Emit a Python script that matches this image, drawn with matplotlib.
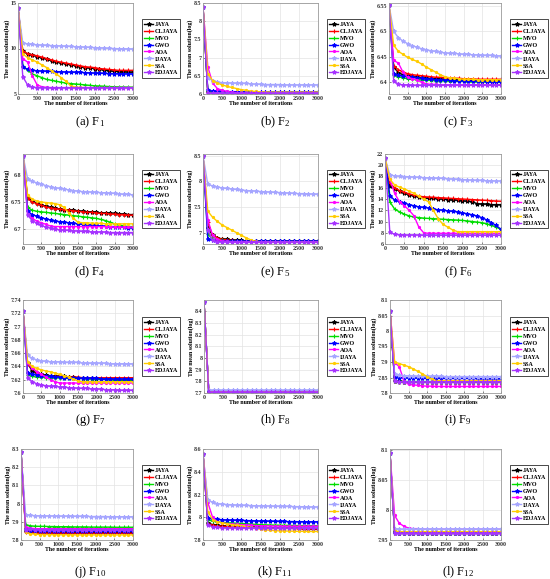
import matplotlib
matplotlib.use("Agg")
import matplotlib.pyplot as plt
from matplotlib.ticker import FuncFormatter

# -----------------------
# Data (mean solution, log scale)
# -----------------------
ITERS = [0, 125, 250, 375, 500,   625, 750, 875, 1000, 1125,   1250, 1375, 1500, 1625, 1750,
         1875, 2000, 2125, 2250, 2375,   2500, 2625, 2750, 2875, 3000]

ALGOS = ["JAYA", "CLJAYA", "MVO", "GWO", "AOA", "IJAYA", "SSA", "EDJAYA"]

# rows follow ALGOS order
F1 = [
    [14.5, 9.7, 9.4, 9.25, 9.1,   8.95, 8.8, 8.65, 8.5, 8.4,   8.3, 8.2, 8.1, 8.0, 7.9,   7.85, 7.8, 7.7, 7.6, 7.55,   7.5, 7.45, 7.45, 7.4, 7.4],
    [14.5, 9.7, 9.45, 9.3, 9.2,   9.05, 8.9, 8.75, 8.6, 8.5,   8.4, 8.3, 8.2, 8.1, 8.0,   7.95, 7.9, 7.8, 7.75, 7.7,   7.65, 7.6, 7.6, 7.6, 7.6],
    [14.5, 8.1, 7.6, 7.2, 7.0,   6.8, 6.6, 6.5, 6.4, 6.3,   6.2, 6.15, 6.1, 6.05, 6.0,   5.95, 5.9, 5.88, 5.85, 5.82,   5.8, 5.78, 5.77, 5.76, 5.75],
    [14.5, 8.0, 7.7, 7.6, 7.55,   7.52, 7.5, 7.48, 7.45, 7.44,   7.42, 7.4, 7.4, 7.38, 7.35,   7.32, 7.3, 7.28, 7.26, 7.25,   7.24, 7.23, 7.22, 7.21, 7.2],
    [14.5, 8.9, 8.5, 7.0, 6.0,   5.8, 5.72, 5.7, 5.7, 5.7,   5.7, 5.7, 5.7, 5.7, 5.7,   5.7, 5.7, 5.7, 5.7, 5.7,   5.7, 5.7, 5.7, 5.7, 5.7],
    [14.5, 10.6, 10.5, 10.45, 10.4,   10.38, 10.35, 10.32, 10.3, 10.28,   10.25, 10.22, 10.2, 10.18, 10.15,   10.12, 10.1, 10.08, 10.05, 10.02,   10.0, 9.98, 9.97, 9.96, 9.95],
    [14.5, 9.4, 9.0, 8.75, 8.5,   8.2, 7.9, 7.55, 7.2, 6.8,   6.4, 5.9, 5.75, 5.72, 5.7,   5.7, 5.7, 5.7, 5.7, 5.7,   5.7, 5.7, 5.7, 5.7, 5.7],
    [14.5, 6.9, 6.0, 5.75, 5.7,   5.7, 5.7, 5.7, 5.7, 5.7,   5.7, 5.7, 5.7, 5.7, 5.7,   5.7, 5.7, 5.7, 5.7, 5.7,   5.7, 5.7, 5.7, 5.7, 5.7],
]
F2 = [
    [8.4, 6.05, 6.04, 6.035, 6.03,   6.03, 6.03, 6.03, 6.03, 6.03,   6.03, 6.03, 6.03, 6.03, 6.03,   6.03, 6.03, 6.03, 6.03, 6.03,   6.03, 6.03, 6.03, 6.03, 6.03],
    [8.4, 6.05, 6.035, 6.03, 6.025,   6.025, 6.025, 6.025, 6.025, 6.025,   6.025, 6.025, 6.025, 6.025, 6.025,   6.025, 6.025, 6.025, 6.025, 6.025,   6.025, 6.025, 6.025, 6.025, 6.025],
    [8.4, 6.07, 6.05, 6.04, 6.035,   6.03, 6.03, 6.03, 6.03, 6.03,   6.03, 6.03, 6.03, 6.03, 6.03,   6.03, 6.03, 6.03, 6.03, 6.03,   6.03, 6.03, 6.03, 6.03, 6.03],
    [8.4, 6.1, 6.08, 6.075, 6.07,   6.068, 6.065, 6.063, 6.06, 6.058,   6.056, 6.055, 6.055, 6.05, 6.05,   6.05, 6.05, 6.05, 6.05, 6.05,   6.05, 6.05, 6.05, 6.05, 6.05],
    [8.4, 6.75, 6.3, 6.15, 6.1,   6.07, 6.05, 6.04, 6.03, 6.02,   6.02, 6.02, 6.02, 6.02, 6.02,   6.02, 6.02, 6.02, 6.02, 6.02,   6.02, 6.02, 6.02, 6.02, 6.02],
    [8.4, 6.45, 6.37, 6.33, 6.31,   6.31, 6.3, 6.3, 6.29, 6.29,   6.28, 6.27, 6.27, 6.26, 6.26,   6.26, 6.26, 6.25, 6.25, 6.25,   6.25, 6.25, 6.25, 6.25, 6.25],
    [8.4, 6.56, 6.37, 6.3, 6.25,   6.21, 6.18, 6.15, 6.12, 6.1,   6.08, 6.07, 6.06, 6.055, 6.05,   6.05, 6.05, 6.05, 6.05, 6.05,   6.05, 6.05, 6.05, 6.05, 6.05],
    [8.4, 6.03, 6.02, 6.02, 6.02,   6.02, 6.02, 6.02, 6.02, 6.02,   6.02, 6.02, 6.02, 6.02, 6.02,   6.02, 6.02, 6.02, 6.02, 6.02,   6.02, 6.02, 6.02, 6.02, 6.02],
]
F3 = [
    [6.553, 6.43, 6.419, 6.415, 6.413,   6.411, 6.41, 6.409, 6.408, 6.407,   6.407, 6.406, 6.406, 6.405, 6.405,   6.405, 6.404, 6.404, 6.404, 6.404,   6.403, 6.403, 6.403, 6.403, 6.403],
    [6.553, 6.432, 6.425, 6.42, 6.417,   6.415, 6.414, 6.413, 6.412, 6.411,   6.41, 6.41, 6.409, 6.409, 6.408,   6.408, 6.407, 6.407, 6.407, 6.406,   6.406, 6.406, 6.406, 6.406, 6.406],
    [6.553, 6.414, 6.411, 6.409, 6.407,   6.406, 6.405, 6.405, 6.404, 6.404,   6.403, 6.403, 6.403, 6.402, 6.402,   6.402, 6.402, 6.401, 6.401, 6.401,   6.401, 6.401, 6.4, 6.4, 6.4],
    [6.553, 6.416, 6.414, 6.412, 6.411,   6.41, 6.409, 6.408, 6.407, 6.406,   6.405, 6.405, 6.404, 6.404, 6.403,   6.403, 6.403, 6.402, 6.402, 6.402,   6.402, 6.401, 6.401, 6.401, 6.401],
    [6.553, 6.443, 6.438, 6.42, 6.41,   6.407, 6.405, 6.4, 6.397, 6.396,   6.396, 6.395, 6.395, 6.395, 6.395,   6.395, 6.395, 6.395, 6.395, 6.395,   6.395, 6.395, 6.395, 6.395, 6.395],
    [6.553, 6.5, 6.488, 6.481, 6.476,   6.472, 6.469, 6.466, 6.464, 6.462,   6.461, 6.459, 6.458, 6.457, 6.457,   6.456, 6.455, 6.455, 6.454, 6.454,   6.453, 6.453, 6.453, 6.452, 6.452],
    [6.553, 6.473, 6.461, 6.455, 6.449,   6.445, 6.441, 6.436, 6.43, 6.425,   6.42, 6.415, 6.411, 6.409, 6.408,   6.407, 6.406, 6.406, 6.406, 6.405,   6.405, 6.405, 6.405, 6.405, 6.405],
    [6.553, 6.403, 6.396, 6.395, 6.395,   6.394, 6.394, 6.394, 6.394, 6.394,   6.394, 6.394, 6.394, 6.394, 6.394,   6.394, 6.394, 6.394, 6.394, 6.394,   6.394, 6.394, 6.394, 6.394, 6.394],
]
F4 = [
    [6.835, 6.758, 6.752, 6.748, 6.745,   6.742, 6.74, 6.739, 6.737, 6.736,   6.735, 6.735, 6.734, 6.733, 6.732,   6.732, 6.731, 6.73, 6.73, 6.729,   6.729, 6.728, 6.728, 6.727, 6.727],
    [6.835, 6.757, 6.75, 6.747, 6.744,   6.741, 6.739, 6.738, 6.737, 6.736,   6.735, 6.734, 6.733, 6.732, 6.731,   6.731, 6.73, 6.729, 6.729, 6.728,   6.728, 6.727, 6.727, 6.726, 6.726],
    [6.835, 6.74, 6.735, 6.733, 6.732,   6.731, 6.73, 6.729, 6.728, 6.727,   6.726, 6.725, 6.724, 6.723, 6.722,   6.721, 6.72, 6.718, 6.716, 6.713,   6.71, 6.708, 6.706, 6.705, 6.705],
    [6.835, 6.733, 6.727, 6.724, 6.721,   6.719, 6.717, 6.715, 6.714, 6.713,   6.712, 6.711, 6.71, 6.709, 6.708,   6.708, 6.707, 6.706, 6.706, 6.705,   6.705, 6.704, 6.704, 6.703, 6.703],
    [6.835, 6.728, 6.72, 6.715, 6.712,   6.709, 6.706, 6.705, 6.705, 6.705,   6.705, 6.705, 6.705, 6.705, 6.705,   6.705, 6.705, 6.705, 6.705, 6.705,   6.704, 6.704, 6.704, 6.704, 6.704],
    [6.835, 6.793, 6.788, 6.785, 6.783,   6.78, 6.778, 6.776, 6.775, 6.774,   6.772, 6.771, 6.77, 6.769, 6.769,   6.768, 6.768, 6.767, 6.767, 6.766,   6.766, 6.765, 6.764, 6.764, 6.763],
    [6.835, 6.763, 6.755, 6.752, 6.75,   6.749, 6.748, 6.747, 6.745, 6.74,   6.73, 6.72, 6.713, 6.712, 6.712,   6.711, 6.711, 6.711, 6.71, 6.71,   6.71, 6.71, 6.71, 6.71, 6.71],
    [6.835, 6.726, 6.716, 6.711, 6.707,   6.704, 6.702, 6.7, 6.699, 6.698,   6.698, 6.697, 6.697, 6.696, 6.696,   6.695, 6.695, 6.695, 6.695, 6.694,   6.694, 6.694, 6.694, 6.694, 6.694],
]
F5 = [
    [8.5, 7.1, 6.95, 6.9, 6.88,   6.87, 6.86, 6.855, 6.85, 6.84,   6.835, 6.83, 6.83, 6.83, 6.83,   6.83, 6.83, 6.83, 6.83, 6.83,   6.83, 6.83, 6.83, 6.83, 6.83],
    [8.5, 7.2, 6.95, 6.9, 6.87,   6.86, 6.85, 6.845, 6.84, 6.835,   6.83, 6.83, 6.83, 6.83, 6.83,   6.83, 6.83, 6.83, 6.83, 6.83,   6.83, 6.83, 6.83, 6.83, 6.83],
    [8.5, 6.97, 6.88, 6.86, 6.85,   6.84, 6.835, 6.83, 6.83, 6.83,   6.83, 6.83, 6.83, 6.83, 6.83,   6.83, 6.83, 6.83, 6.83, 6.83,   6.83, 6.83, 6.83, 6.83, 6.83],
    [8.5, 6.87, 6.85, 6.845, 6.84,   6.835, 6.83, 6.83, 6.83, 6.83,   6.83, 6.83, 6.83, 6.83, 6.83,   6.83, 6.83, 6.83, 6.83, 6.83,   6.83, 6.83, 6.83, 6.83, 6.83],
    [8.5, 7.25, 6.95, 6.87, 6.84,   6.83, 6.825, 6.82, 6.82, 6.82,   6.82, 6.82, 6.82, 6.82, 6.82,   6.82, 6.82, 6.82, 6.82, 6.82,   6.82, 6.82, 6.82, 6.82, 6.82],
    [8.5, 7.94, 7.91, 7.89, 7.87,   7.86, 7.85, 7.84, 7.83, 7.82,   7.815, 7.81, 7.8, 7.795, 7.79,   7.785, 7.78, 7.775, 7.77, 7.765,   7.76, 7.76, 7.755, 7.75, 7.75],
    [8.5, 7.42, 7.3, 7.22, 7.15,   7.1, 7.05, 7.0, 6.95, 6.9,   6.86, 6.83, 6.82, 6.82, 6.82,   6.82, 6.82, 6.82, 6.82, 6.82,   6.82, 6.82, 6.82, 6.82, 6.82],
    [8.5, 7.05, 6.85, 6.82, 6.82,   6.82, 6.82, 6.82, 6.82, 6.82,   6.82, 6.82, 6.82, 6.82, 6.82,   6.82, 6.82, 6.82, 6.82, 6.82,   6.82, 6.82, 6.82, 6.82, 6.82],
]
F6 = [
    [21.3, 16.3, 15.8, 15.4, 15.0,   14.7, 14.5, 14.3, 14.2, 14.1,   14.1, 14.0, 14.0, 13.9, 13.8,   13.8, 13.7, 13.6, 13.5, 13.2,   13.1, 13.1, 13.0, 13.0, 13.0],
    [21.3, 16.8, 16.0, 15.5, 15.2,   14.9, 14.7, 14.5, 14.4, 14.35,   14.3, 14.25, 14.2, 14.15, 14.1,   14.05, 14.0, 13.95, 13.9, 13.85,   13.8, 13.75, 13.7, 13.65, 13.6],
    [21.3, 13.5, 12.2, 11.7, 11.3,   11.0, 10.8, 10.7, 10.6, 10.55,   10.5, 10.45, 10.4, 10.35, 10.3,   10.25, 10.2, 10.1, 10.0, 9.9,   9.8, 9.6, 9.3, 9.0, 8.6],
    [21.3, 14.6, 13.8, 13.5, 13.3,   13.0, 12.8, 12.6, 12.5, 12.4,   12.2, 12.1, 12.0, 11.9, 11.8,   11.7, 11.5, 11.4, 11.2, 11.0,   10.7, 10.3, 9.8, 9.3, 8.6],
    [21.3, 17.5, 15.0, 13.5, 12.8,   12.0, 11.0, 9.0, 8.0, 7.9,   7.9, 7.9, 7.9, 7.9, 7.9,   7.9, 7.9, 7.9, 7.9, 7.9,   7.9, 7.9, 7.9, 7.9, 7.9],
    [21.3, 18.3, 18.1, 18.05, 18.0,   17.95, 17.9, 17.85, 17.8, 17.75,   17.7, 17.7, 17.65, 17.6, 17.55,   17.5, 17.45, 17.4, 17.35, 17.3,   17.3, 17.25, 17.25, 17.2, 17.2],
    [21.3, 17.5, 16.5, 16.1, 15.8,   15.4, 15.0, 14.5, 14.0, 13.5,   12.0, 10.5, 9.5, 9.0, 8.5,   8.2, 8.2, 8.2, 8.2, 8.2,   8.2, 8.2, 8.2, 8.2, 8.2],
    [21.3, 8.1, 7.7, 7.65, 7.6,   7.6, 7.6, 7.6, 7.55, 7.55,   7.55, 7.55, 7.55, 7.55, 7.55,   7.55, 7.55, 7.55, 7.55, 7.55,   7.55, 7.55, 7.55, 7.55, 7.55],
]
F7 = [
    [7.723, 7.645, 7.633, 7.63, 7.628,   7.627, 7.626, 7.626, 7.625, 7.625,   7.624, 7.624, 7.623, 7.623, 7.622,   7.622, 7.621, 7.621, 7.621, 7.621,   7.62, 7.62, 7.62, 7.62, 7.62],
    [7.723, 7.644, 7.638, 7.632, 7.627,   7.626, 7.625, 7.625, 7.625, 7.624,   7.624, 7.624, 7.624, 7.623, 7.623,   7.623, 7.623, 7.623, 7.623, 7.623,   7.623, 7.623, 7.623, 7.623, 7.623],
    [7.723, 7.627, 7.625, 7.624, 7.624,   7.623, 7.623, 7.623, 7.623, 7.622,   7.622, 7.622, 7.622, 7.622, 7.621,   7.621, 7.621, 7.621, 7.621, 7.62,   7.62, 7.62, 7.62, 7.62, 7.62],
    [7.723, 7.63, 7.628, 7.627, 7.626,   7.625, 7.625, 7.624, 7.624, 7.623,   7.623, 7.623, 7.622, 7.622, 7.622,   7.622, 7.622, 7.621, 7.621, 7.621,   7.621, 7.621, 7.621, 7.621, 7.621],
    [7.723, 7.645, 7.637, 7.632, 7.628,   7.624, 7.62, 7.617, 7.615, 7.615,   7.615, 7.615, 7.615, 7.615, 7.615,   7.615, 7.615, 7.615, 7.615, 7.615,   7.615, 7.615, 7.615, 7.615, 7.615],
    [7.723, 7.657, 7.652, 7.65, 7.648,   7.648, 7.647, 7.647, 7.647, 7.646,   7.646, 7.646, 7.646, 7.645, 7.645,   7.645, 7.645, 7.645, 7.645, 7.644,   7.644, 7.644, 7.644, 7.644, 7.644],
    [7.723, 7.647, 7.64, 7.637, 7.635,   7.633, 7.632, 7.63, 7.628, 7.626,   7.624, 7.621, 7.618, 7.617, 7.617,   7.617, 7.617, 7.617, 7.617, 7.617,   7.617, 7.617, 7.617, 7.617, 7.617],
    [7.723, 7.623, 7.617, 7.614, 7.612,   7.611, 7.61, 7.61, 7.609, 7.609,   7.608, 7.608, 7.607, 7.607, 7.607,   7.606, 7.606, 7.606, 7.605, 7.605,   7.605, 7.604, 7.604, 7.604, 7.604],
]
F8 = [
    [8.48, 7.712, 7.712, 7.712, 7.712,   7.712, 7.712, 7.712, 7.712, 7.712,   7.712, 7.712, 7.712, 7.712, 7.712,   7.712, 7.712, 7.712, 7.712, 7.712,   7.712, 7.712, 7.712, 7.712, 7.712],
    [8.48, 7.71, 7.71, 7.71, 7.71,   7.71, 7.71, 7.71, 7.71, 7.71,   7.71, 7.71, 7.71, 7.71, 7.71,   7.71, 7.71, 7.71, 7.71, 7.71,   7.71, 7.71, 7.71, 7.71, 7.71],
    [8.48, 7.712, 7.712, 7.712, 7.712,   7.712, 7.712, 7.712, 7.712, 7.712,   7.712, 7.712, 7.712, 7.712, 7.712,   7.712, 7.712, 7.712, 7.712, 7.712,   7.712, 7.712, 7.712, 7.712, 7.712],
    [8.48, 7.713, 7.713, 7.713, 7.713,   7.713, 7.713, 7.713, 7.713, 7.713,   7.713, 7.713, 7.713, 7.713, 7.713,   7.713, 7.713, 7.713, 7.713, 7.713,   7.713, 7.713, 7.713, 7.713, 7.713],
    [8.48, 7.708, 7.708, 7.708, 7.708,   7.708, 7.708, 7.708, 7.708, 7.708,   7.708, 7.708, 7.708, 7.708, 7.708,   7.708, 7.708, 7.708, 7.708, 7.708,   7.708, 7.708, 7.708, 7.708, 7.708],
    [8.48, 7.725, 7.725, 7.725, 7.725,   7.725, 7.725, 7.725, 7.725, 7.725,   7.725, 7.725, 7.725, 7.725, 7.725,   7.725, 7.725, 7.725, 7.725, 7.725,   7.725, 7.725, 7.725, 7.725, 7.725],
    [8.48, 7.71, 7.71, 7.71, 7.71,   7.71, 7.71, 7.71, 7.71, 7.71,   7.71, 7.71, 7.71, 7.71, 7.71,   7.71, 7.71, 7.71, 7.71, 7.71,   7.71, 7.71, 7.71, 7.71, 7.71],
    [8.48, 7.706, 7.706, 7.706, 7.706,   7.706, 7.706, 7.706, 7.706, 7.706,   7.706, 7.706, 7.706, 7.706, 7.706,   7.706, 7.706, 7.706, 7.706, 7.706,   7.706, 7.706, 7.706, 7.706, 7.706],
]
F9 = [
    [8.065, 7.84, 7.838, 7.837, 7.836,   7.836, 7.836, 7.836, 7.836, 7.836,   7.836, 7.836, 7.836, 7.836, 7.836,   7.836, 7.836, 7.836, 7.836, 7.836,   7.836, 7.836, 7.836, 7.836, 7.836],
    [8.065, 7.838, 7.837, 7.836, 7.836,   7.835, 7.835, 7.835, 7.835, 7.835,   7.835, 7.835, 7.835, 7.835, 7.835,   7.835, 7.835, 7.835, 7.835, 7.835,   7.835, 7.835, 7.835, 7.835, 7.835],
    [8.065, 7.838, 7.837, 7.837, 7.837,   7.837, 7.837, 7.837, 7.837, 7.837,   7.837, 7.837, 7.837, 7.837, 7.837,   7.837, 7.837, 7.837, 7.837, 7.837,   7.837, 7.837, 7.837, 7.837, 7.837],
    [8.065, 7.853, 7.85, 7.849, 7.848,   7.848, 7.848, 7.847, 7.847, 7.847,   7.847, 7.847, 7.847, 7.847, 7.847,   7.847, 7.847, 7.847, 7.847, 7.846,   7.846, 7.846, 7.846, 7.846, 7.846],
    [8.065, 7.898, 7.885, 7.84, 7.828,   7.826, 7.825, 7.823, 7.822, 7.822,   7.821, 7.821, 7.821, 7.821, 7.821,   7.821, 7.821, 7.821, 7.821, 7.821,   7.821, 7.821, 7.821, 7.821, 7.821],
    [8.065, 7.86, 7.857, 7.856, 7.855,   7.855, 7.854, 7.854, 7.854, 7.854,   7.854, 7.854, 7.853, 7.853, 7.853,   7.853, 7.853, 7.853, 7.853, 7.853,   7.853, 7.853, 7.853, 7.853, 7.853],
    [8.065, 7.9, 7.895, 7.89, 7.885,   7.878, 7.87, 7.862, 7.853, 7.845,   7.84, 7.84, 7.84, 7.84, 7.84,   7.84, 7.84, 7.84, 7.84, 7.84,   7.84, 7.84, 7.84, 7.84, 7.84],
    [8.065, 7.84, 7.837, 7.836, 7.836,   7.836, 7.836, 7.836, 7.836, 7.836,   7.836, 7.836, 7.836, 7.836, 7.836,   7.836, 7.836, 7.836, 7.836, 7.836,   7.836, 7.836, 7.836, 7.836, 7.836],
]
F10 = [
    [8.285, 7.85, 7.845, 7.843, 7.842,   7.842, 7.841, 7.841, 7.841, 7.841,   7.841, 7.841, 7.84, 7.84, 7.84,   7.84, 7.84, 7.84, 7.84, 7.84,   7.84, 7.84, 7.84, 7.84, 7.84],
    [8.285, 7.845, 7.84, 7.838, 7.838,   7.838, 7.838, 7.838, 7.838, 7.838,   7.837, 7.837, 7.837, 7.837, 7.837,   7.837, 7.837, 7.837, 7.837, 7.837,   7.837, 7.837, 7.837, 7.837, 7.837],
    [8.285, 7.885, 7.878, 7.876, 7.875,   7.875, 7.874, 7.874, 7.873, 7.873,   7.873, 7.872, 7.872, 7.872, 7.872,   7.871, 7.871, 7.871, 7.871, 7.871,   7.87, 7.87, 7.87, 7.87, 7.87],
    [8.285, 7.86, 7.852, 7.85, 7.85,   7.849, 7.849, 7.849, 7.849, 7.849,   7.849, 7.848, 7.848, 7.848, 7.848,   7.848, 7.848, 7.848, 7.848, 7.848,   7.848, 7.848, 7.848, 7.848, 7.848],
    [8.285, 7.87, 7.865, 7.863, 7.862,   7.862, 7.862, 7.862, 7.862, 7.862,   7.862, 7.862, 7.862, 7.862, 7.862,   7.862, 7.862, 7.862, 7.862, 7.862,   7.862, 7.862, 7.862, 7.862, 7.862],
    [8.285, 7.937, 7.935, 7.934, 7.933,   7.933, 7.932, 7.932, 7.931, 7.931,   7.931, 7.93, 7.93, 7.93, 7.93,   7.929, 7.929, 7.929, 7.929, 7.928,   7.928, 7.928, 7.928, 7.928, 7.928],
    [8.285, 7.845, 7.835, 7.832, 7.83,   7.83, 7.83, 7.829, 7.829, 7.829,   7.829, 7.829, 7.828, 7.828, 7.828,   7.828, 7.828, 7.828, 7.828, 7.828,   7.828, 7.828, 7.828, 7.828, 7.828],
    [8.285, 7.855, 7.858, 7.857, 7.857,   7.857, 7.857, 7.857, 7.857, 7.857,   7.856, 7.856, 7.856, 7.856, 7.856,   7.856, 7.856, 7.856, 7.856, 7.856,   7.856, 7.856, 7.856, 7.856, 7.856],
]
F11 = [
    [8.56, 7.95, 7.935, 7.93, 7.925,   7.922, 7.92, 7.918, 7.915, 7.913,   7.912, 7.911, 7.91, 7.909, 7.908,   7.907, 7.905, 7.904, 7.903, 7.902,   7.902, 7.901, 7.901, 7.9, 7.9],
    [8.56, 7.945, 7.93, 7.925, 7.92,   7.918, 7.916, 7.914, 7.912, 7.911,   7.91, 7.909, 7.908, 7.907, 7.906,   7.905, 7.905, 7.904, 7.903, 7.902,   7.901, 7.901, 7.9, 7.9, 7.9],
    [8.56, 7.98, 7.965, 7.96, 7.955,   7.952, 7.95, 7.947, 7.945, 7.943,   7.94, 7.937, 7.935, 7.933, 7.932,   7.931, 7.93, 7.929, 7.928, 7.927,   7.927, 7.926, 7.926, 7.925, 7.925],
    [8.56, 7.99, 7.985, 7.982, 7.978,   7.976, 7.975, 7.974, 7.972, 7.971,   7.97, 7.968, 7.967, 7.966, 7.965,   7.964, 7.963, 7.963, 7.962, 7.962,   7.961, 7.961, 7.96, 7.96, 7.96],
    [8.56, 8.13, 8.0, 7.96, 7.95,   7.945, 7.94, 7.937, 7.935, 7.932,   7.93, 7.927, 7.925, 7.924, 7.923,   7.922, 7.922, 7.921, 7.921, 7.92,   7.92, 7.92, 7.92, 7.92, 7.92],
    [8.56, 8.155, 8.13, 8.12, 8.115,   8.112, 8.11, 8.107, 8.105, 8.104,   8.103, 8.101, 8.1, 8.099, 8.098,   8.097, 8.096, 8.095, 8.095, 8.094,   8.093, 8.092, 8.091, 8.09, 8.09],
    [8.56, 8.05, 7.98, 7.96, 7.95,   7.942, 7.935, 7.93, 7.925, 7.918,   7.91, 7.902, 7.895, 7.89, 7.885,   7.882, 7.88, 7.879, 7.878, 7.877,   7.876, 7.876, 7.875, 7.875, 7.875],
    [8.56, 7.935, 7.915, 7.91, 7.908,   7.907, 7.906, 7.906, 7.905, 7.905,   7.905, 7.905, 7.905, 7.905, 7.905,   7.905, 7.905, 7.905, 7.905, 7.905,   7.905, 7.905, 7.905, 7.905, 7.905],
]
F12 = [
    [8.095, 7.963, 7.962, 7.962, 7.962,   7.962, 7.962, 7.962, 7.962, 7.962,   7.962, 7.962, 7.962, 7.962, 7.962,   7.962, 7.962, 7.962, 7.962, 7.962,   7.962, 7.962, 7.962, 7.962, 7.962],
    [8.095, 7.962, 7.961, 7.961, 7.961,   7.961, 7.961, 7.961, 7.961, 7.961,   7.961, 7.961, 7.961, 7.961, 7.961,   7.961, 7.961, 7.961, 7.961, 7.961,   7.961, 7.961, 7.961, 7.961, 7.961],
    [8.095, 7.963, 7.962, 7.962, 7.962,   7.962, 7.962, 7.962, 7.962, 7.962,   7.962, 7.962, 7.962, 7.962, 7.962,   7.962, 7.962, 7.962, 7.962, 7.962,   7.962, 7.962, 7.962, 7.962, 7.962],
    [8.095, 7.961, 7.961, 7.961, 7.961,   7.961, 7.961, 7.961, 7.961, 7.961,   7.961, 7.961, 7.961, 7.961, 7.961,   7.961, 7.961, 7.961, 7.961, 7.961,   7.961, 7.961, 7.961, 7.961, 7.961],
    [8.095, 7.991, 7.978, 7.973, 7.97,   7.969, 7.969, 7.968, 7.968, 7.968,   7.968, 7.968, 7.968, 7.968, 7.968,   7.968, 7.968, 7.968, 7.968, 7.968,   7.968, 7.968, 7.968, 7.968, 7.968],
    [8.095, 7.969, 7.968, 7.968, 7.968,   7.968, 7.968, 7.968, 7.968, 7.968,   7.968, 7.968, 7.968, 7.968, 7.968,   7.968, 7.968, 7.968, 7.968, 7.968,   7.968, 7.968, 7.968, 7.968, 7.968],
    [8.095, 7.965, 7.964, 7.964, 7.964,   7.964, 7.964, 7.964, 7.964, 7.964,   7.964, 7.964, 7.964, 7.964, 7.964,   7.964, 7.964, 7.964, 7.964, 7.964,   7.964, 7.964, 7.964, 7.964, 7.964],
    [8.095, 7.962, 7.961, 7.961, 7.961,   7.961, 7.961, 7.961, 7.961, 7.961,   7.961, 7.961, 7.961, 7.961, 7.961,   7.961, 7.961, 7.961, 7.961, 7.961,   7.961, 7.961, 7.961, 7.961, 7.961],
]

PANELS = [F1, F2, F3, F4, F5, F6, F7, F8, F9, F10, F11, F12]
LETTERS = ["a", "b", "c", "d", "e", "f", "g", "h", "i", "j", "k", "l"]

Y_LIMS = [(5, 15), (6, 8.5), (6.377, 6.556), (6.673, 6.838), (6.78, 8.53), (6, 22),
          (7.6, 7.74), (7.7, 8.495), (7.8, 8.1), (7.8, 8.3), (7.8, 8.6), (7.95, 8.102)]
Y_TICKS = [
    [5, 10, 15],
    [6, 6.5, 7, 7.5, 8, 8.5],
    [6.4, 6.45, 6.5, 6.55],
    [6.7, 6.75, 6.8],
    [7, 7.5, 8, 8.5],
    [6, 8, 10, 12, 14, 16, 18, 20, 22],
    [7.6, 7.62, 7.64, 7.66, 7.68, 7.7, 7.72, 7.74],
    [7.7, 7.8, 7.9, 8, 8.1, 8.2, 8.3, 8.4],
    [7.8, 7.85, 7.9, 7.95, 8, 8.05, 8.1],
    [7.8, 7.9, 8, 8.1, 8.2, 8.3],
    [7.8, 8, 8.2, 8.4, 8.6],
    [7.95, 8, 8.05, 8.1],
]
X_TICKS = [0, 500, 1000, 1500, 2000, 2500, 3000]

# -----------------------
# Styles / layout (pixels of a 550x579 canvas)
# -----------------------
COLORS = ["#000000", "#ff0000", "#00dd00", "#0000ff", "#ff00ff", "#a6a6ff", "#ffcc00", "#a633ff"]
MARKERS = ["*", "+", "+", "*", ".", "*", ".", "*"]

W, H = 550, 579
AX_LEFT = [18, 203, 389, 23, 203, 385, 23, 204, 390, 21, 203, 390]
COL_RIGHT = [133, 318, 501]
ROW_TOP = [3, 154, 300, 449]
ROW_BOTTOM = [94, 244, 393, 540]
CAP_X = [90, 275, 458]
CAP_Y = [122, 272, 420, 572]

plt.rcParams["font.family"] = "Liberation Serif"
plt.rcParams["mathtext.default"] = "regular"

fig = plt.figure(figsize=(W / 100, H / 100), dpi=100)
fig.patch.set_facecolor("white")

fmt = FuncFormatter(lambda v, p: "%g" % round(v, 4))

for i, data in enumerate(PANELS):
    row, col = divmod(i, 3)
    l, r = AX_LEFT[i], COL_RIGHT[col]
    t, b = ROW_TOP[row], ROW_BOTTOM[row]
    ax = fig.add_axes([l / W, 1 - b / H, (r - l) / W, (b - t) / H])

    for k, name in enumerate(ALGOS):
        ax.plot(ITERS, data[k], color=COLORS[k], marker=MARKERS[k], markersize=3.0,
                markeredgewidth=0.8, linewidth=1.0, label=name)

    ax.set_xlim(0, 3000)
    ax.set_ylim(*Y_LIMS[i])
    ax.set_xticks(X_TICKS)
    ax.set_yticks(Y_TICKS[i])
    ax.yaxis.set_major_formatter(fmt)
    ax.grid(True, color="#e3e3e3", linewidth=0.5)
    ax.set_axisbelow(True)
    for s in ax.spines.values():
        s.set_color("#9a9a9a")
        s.set_linewidth(0.6)
    ax.tick_params(direction="in", length=1.5, width=0.4, pad=1.2, labelsize=4.3, colors="#333333")
    for lab in ax.get_xticklabels() + ax.get_yticklabels():
        lab.set_fontweight("bold")
    ax.set_xlabel("The number of iterations", fontsize=4.3, fontweight="bold", labelpad=0.5)
    ax.set_ylabel("The mean solution(log)", fontsize=4.3, fontweight="bold", labelpad=0.5)

    leg = ax.legend(loc="center left", bbox_to_anchor=(1 + 9 / (r - l), 0.5),
                    prop={"family": "Liberation Serif", "weight": "bold", "size": 4.3},
                    fancybox=False, edgecolor="black", framealpha=1, borderpad=0.35,
                    labelspacing=0.3, handlelength=1.5, handletextpad=0.3, borderaxespad=0)
    leg.get_frame().set_linewidth(0.5)

    fig.text(CAP_X[col] / W, 1 - CAP_Y[row] / H, "(%s) F$_{%d}$" % (LETTERS[i], i + 1),
             ha="center", va="center", fontsize=9)

fig.savefig("out.png", dpi=100)
